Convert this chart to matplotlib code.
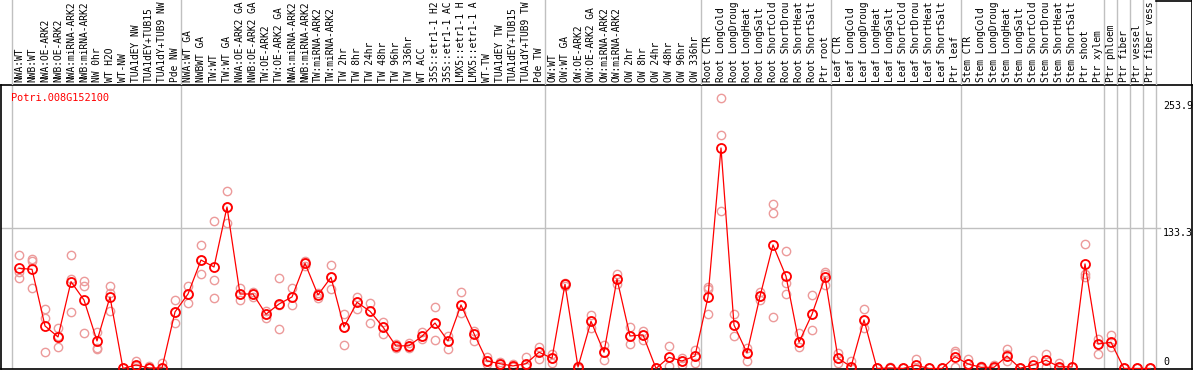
import numpy as np
import matplotlib
matplotlib.use('Agg')
import matplotlib.pyplot as plt

gene = 'Potri.008G152100'

# sample names as far as they are visible in the header
samples = [
    'NWA:WT', 'NWB:WT', 'NWA:OE-ARK2', 'NWB:OE-ARK2', 'NWA:miRNA-ARK2', 'NWB:miRNA-ARK2',
    'NW 0hr', 'WT H2O', 'WT-NW', 'TUA1dEY NW', 'TUA1dEY+TUB15', 'TUA1dY+TUB9 NW', 'Pde NW',
    'NWA:WT GA', 'NWBWT GA', 'TW:WT', 'TW:WT GA', 'NWA:OE-ARK2 GA', 'NWB:OE-ARK2 GA',
    'TW:OE-ARK2', 'TW:OE-ARK2 GA', 'NWA:miRNA-ARK2', 'NWB:miRNA-ARK2', 'TW:miRNA-ARK2',
    'TW:miRNA-ARK2', 'TW 2hr', 'TW 8hr', 'TW 24hr', 'TW 48hr', 'TW 96hr', 'TW 336hr', 'WT ACC',
    '35S::etr1-1 H2', '35S::etr1-1 AC', 'LMX5::etr1-1 H', 'LMX5::etr1-1 A', 'WT-TW',
    'TUA1dEY TW', 'TUA1dEY+TUB15', 'TUA1dY+TUB9 TW', 'Pde TW',
    'OW:WT', 'OW:WT GA', 'OW:OE-ARK2', 'OW:OE-ARK2 GA', 'OW:miRNA-ARK2', 'OW:miRNA-ARK2',
    'OW 2hr', 'OW 8hr', 'OW 24hr', 'OW 48hr', 'OW 96hr', 'OW 336hr',
    'Root CTR', 'Root LongCold', 'Root LongDroug', 'Root LongHeat', 'Root LongSalt',
    'Root ShortCold', 'Root ShortDrou', 'Root ShortHeat', 'Root ShortSalt', 'Ptr root',
    'Leaf CTR', 'Leaf LongCold', 'Leaf LongDroug', 'Leaf LongHeat', 'Leaf LongSalt',
    'Leaf ShortCold', 'Leaf ShortDrou', 'Leaf ShortHeat', 'Leaf ShortSalt', 'Ptr leaf',
    'Stem CTR', 'Stem LongCold', 'Stem LongDroug', 'Stem LongHeat', 'Stem LongSalt',
    'Stem ShortCold', 'Stem ShortDrou', 'Stem ShortHeat', 'Stem ShortSalt', 'Ptr shoot',
    'Ptr xylem', 'Ptr phloem', 'Ptr fiber', 'Ptr vessel', 'Ptr fiber vess',
]
group_sizes = [13, 28, 12, 10, 10, 11, 1, 1, 1, 1]

means = [95.0, 94.0, 40.3, 29.9, 82.3, 64.9, 26.1, 67.8, 0, 3.3, 0.5, 0.5, 53.6,
         70.6, 102.8, 96.2, 153.1, 70.6, 70.6, 51.4, 61.1, 67.8, 99.7, 69.7, 86.4, 39.3,
         62.7, 54.2, 39.3, 21.3, 21.6, 30.5, 43.1, 26.1, 60.2, 33.0, 7.1, 4.5, 2.4, 4.5, 15.4,
         9.7, 79.8, 1.4, 44.7, 15.4, 84.8, 30.8, 31.8, 0, 10.6, 7.1, 11.8,
         67.8, 209.0, 41.2, 14.7, 68.4, 117.1, 87.4, 24.8, 51.4, 86.4,
         9.7, 1.7, 46.0, 0, 0.5, 0, 3.0, 0, 0, 11.2,
         4.3, 1.1, 1.1, 11.8, 0.2, 3.3, 7.8, 1.7, 1.4, 99.1, 23.2,
         24.8, 0, 0, 0]

rep_a = [107.6, 104.1, 56.4, 38.4, 107.6, 82.9, 34.6, 78.2, 0, 7.1, 2.4, 5.2, 64.9,
         78.2, 117.1, 139.8, 168.2, 76.3, 72.5, 54.5, 85.8, 76.3, 102.0, 71.8, 97.8, 51.7,
         68.1, 62.1, 44.1, 23.2, 24.2, 34.6, 58.0, 31.1, 72.2, 35.5, 11.2, 6.2, 3.8, 11.2, 20.7,
         13.7, 81.0, 2.7, 50.7, 22.3, 89.6, 39.1, 35.5, 0, 21.6, 10.2, 17.5,
         77.0, 256.1, 51.9, 19.1, 72.2, 155.9, 111.4, 33.4, 69.7, 91.8,
         15.0, 7.1, 56.4, 0, 1.0, 0, 9.0, 0, 0, 16.6,
         9.0, 2.4, 3.3, 18.2, 0.5, 8.1, 13.7, 4.9, 1.4, 117.7, 28.0,
         31.8, 0, 0, 0]
rep_b = [91.5, 101.9, 47.9, 30.9, 84.8, 78.2, 19.4, 71.6, 0, 2.4, 0, 0, 53.6,
         70.6, 102.8, 83.9, 153.1, 70.6, 70.6, 51.4, 60.0, 67.8, 99.7, 69.7, 86.4, 39.3,
         62.7, 54.2, 39.3, 21.3, 21.6, 30.5, 43.1, 26.1, 60.2, 33.0, 7.1, 4.5, 2.4, 4.5, 15.4,
         9.7, 79.8, 0.5, 44.7, 15.4, 84.8, 30.8, 31.8, 0, 10.6, 7.1, 11.8,
         75.4, 221.0, 41.0, 14.7, 68.4, 147.4, 80.8, 24.8, 51.4, 89.6,
         9.7, 0, 46.0, 0, 0.5, 0, 0, 0, 0, 14.7,
         4.3, 0.5, 0, 13.7, 0, 0.5, 8.1, 0, 1.4, 89.6, 23.2,
         24.8, 0, 0, 0]
rep_c = [85.8, 76.3, 15.6, 20.4, 53.6, 33.6, 18.5, 54.5, 0, 0.5, 0, 0, 43.1,
         62.1, 89.6, 66.8, 137.9, 64.9, 67.8, 47.9, 37.4, 60.2, 97.0, 67.1, 75.1, 22.3,
         56.7, 43.1, 32.7, 19.4, 19.4, 27.9, 26.7, 18.8, 52.6, 26.1, 4.3, 2.4, 1.4, 1.4, 9.3,
         4.9, 78.0, 0.5, 38.4, 8.3, 79.8, 22.9, 27.0, 0, 2.4, 3.3, 5.5,
         51.4, 149.0, 30.5, 7.1, 64.9, 48.5, 70.3, 20.1, 36.2, 79.1,
         5.2, 0, 38.4, 0, 0, 0, 0, 0, 0, 1.7,
         0.5, 0.5, 0, 7.4, 0, 0.5, 1.7, 0, 1.4, 86.4, 13.7,
         20.7, 0, 0, 0]

ticks = [0, 133.3, 253.9]

W, H = 1194, 370
fig = plt.figure(figsize=(W / 100, H / 100), dpi=100)
mono = 'DejaVu Sans Mono'
grey = '#c0c0c0'
pink = '#ec9a9a'

x = np.arange(len(samples))
xlim = ((1 - 19) / 13, (1192 - 19) / 13)
bounds = np.concatenate([[0], np.cumsum(group_sizes)]) - 0.55

# plot area
ax = fig.add_axes([1 / W, 1 / H, 1191 / W, 284 / H])
ax.set_xlim(*xlim)
ax.set_ylim(-0.5, 268.7)
for b in bounds:
    ax.axvline(b, color=grey, lw=1, zorder=1)
ax.axhline(ticks[1], xmax=(1160 - 1) / 1191, color=grey, lw=1, zorder=1)
for r in (rep_a, rep_b, rep_c):
    ax.plot(x, r, 'o', ms=6, mfc='none', mec=pink, mew=1, zorder=2)
ax.plot(x, means, '-', color='red', lw=0.9, zorder=3)
ax.plot(x, means, 'o', ms=6.5, mfc='none', mec='red', mew=1.3, zorder=4)
ax.set_xticks([])
ax.set_yticks([])
for s in ax.spines.values():
    s.set_color('black')
    s.set_linewidth(1.2)
ax.text(10 / 1191, 1 - 8 / 284, gene, color='red', fontsize=7.4, family=mono,
        transform=ax.transAxes, ha='left', va='top')
xr = (1163 - 1) / 1191
ax.text(xr, ticks[2], '253.9', fontsize=7.2, family=mono, va='top',
        transform=ax.get_yaxis_transform(), clip_on=False)
ax.text(xr, ticks[1], '133.3', fontsize=7.2, family=mono, va='top',
        transform=ax.get_yaxis_transform(), clip_on=False)
ax.text(xr, ticks[0] + 1, '0', fontsize=7.2, family=mono, va='bottom',
        transform=ax.get_yaxis_transform(), clip_on=False)

# header with sample names
hx = fig.add_axes([1 / W, 285 / H, 1191 / W, 85 / H])
hx.set_xlim(*xlim)
hx.set_ylim(0, 85)
hx.axis('off')
for b in bounds:
    hx.axvline(b, color=grey, lw=1)
for i, name in enumerate(samples):
    hx.text(i, 2.5, name, rotation=90, ha='center', va='bottom', fontsize=6.9,
            family=mono, color='black')
hx.plot([1156, 1192], [369.5, 369.5], color='black', lw=1.2, transform=None)
hx.plot([1192, 1192], [285, 370], color='black', lw=1.2, transform=None)

fig.savefig('out.png', dpi=100)
